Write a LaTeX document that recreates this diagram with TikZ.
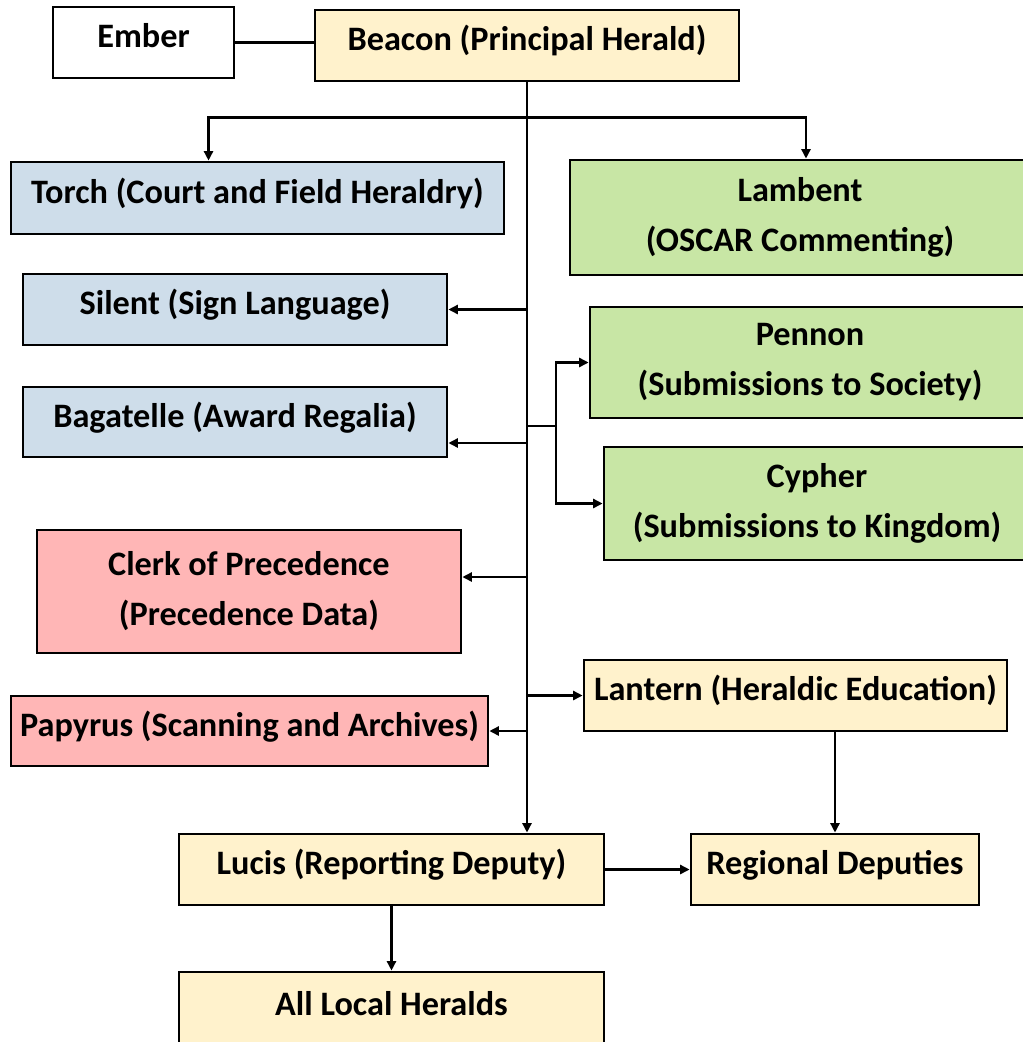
\documentclass[tikz,border=0pt]{standalone}
\usepackage{fontspec}
\setmainfont{Carlito}
\usetikzlibrary{arrows.meta,positioning}
\definecolor{heraldyellow}{RGB}{255,242,204}
\definecolor{heraldblue}{RGB}{206,221,234}
\definecolor{heraldgreen}{RGB}{200,230,165}
\definecolor{heraldpink}{RGB}{255,182,182}
\tikzset{
    %Define standard arrow tip
    >={Triangle[length=1.9mm,width=1.8mm]},
    %Define style for boxes
    office/.style={
           rectangle,
           draw=black, line width=1.6pt,
           inner sep=0pt,
           font=\bfseries\fontsize{19.5}{28.5}\selectfont,
           align=center},
    oneline/.style={
           text height=0.4cm,
           text depth=0.2cm},
    plainrect/.style={office, oneline, fill=white},
    yellowrect/.style={office, oneline, fill=heraldyellow},
    bluerect/.style={office, oneline, fill=heraldblue},
    greenrect/.style={office, fill=heraldgreen},
    pinkrect/.style={office, fill=heraldpink},
    % Define arrow style
    pil/.style={
           ->,
           line width=1.4pt}
}
\begin{document}
\begin{tikzpicture}[x=0.02cm,y=-0.02cm]
\useasboundingbox (0,0) rectangle (1023,1042);
\clip (0,0) rectangle (1023,1042);

 %nodes
\node[plainrect, minimum width=3.62cm, minimum height=1.42cm] (ember) at (143.5,42.5) {Ember};
\node[yellowrect, minimum width=8.48cm, minimum height=1.42cm] (beacon) at (527,45.5) {Beacon (Principal Herald)};
\node[bluerect, minimum width=9.86cm, minimum height=1.44cm] (torch) at (257.5,198) {Torch (Court and Field Heraldry)};
\node[greenrect, minimum width=9.2cm, minimum height=2.3cm] (lambent) at (800,217.5) {Lambent\\(OSCAR Commenting)};
\node[bluerect, minimum width=8.48cm, minimum height=1.42cm] (silent) at (235,309.5) {Silent (Sign Language)};
\node[greenrect, minimum width=8.8cm, minimum height=2.22cm] (pennon) at (810,362.5) {Pennon\\(Submissions to Society)};
\node[bluerect, minimum width=8.48cm, minimum height=1.4cm] (bagatelle) at (235,422) {Bagatelle (Award Regalia)};
\node[greenrect, minimum width=8.52cm, minimum height=2.26cm] (cypher) at (817,503.5) {Cypher\\(Submissions to Kingdom)};
\node[pinkrect, minimum width=8.48cm, minimum height=2.46cm] (clerk) at (249,591.5) {Clerk of Precedence\\(Precedence Data)};
\node[yellowrect, minimum width=8.46cm, minimum height=1.42cm] (lantern) at (795.5,695.5) {Lantern (Heraldic Education)};
\node[pinkrect, oneline, minimum width=9.54cm, minimum height=1.4cm] (papyrus) at (249.5,731) {Papyrus (Scanning and Archives)};
\node[yellowrect, minimum width=8.5cm, minimum height=1.42cm] (lucis) at (391.5,869.5) {Lucis (Reporting Deputy)};
\node[yellowrect, minimum width=5.76cm, minimum height=1.42cm] (regional) at (835,869.5) {Regional Deputies};
\node[yellowrect, minimum width=8.5cm, minimum height=1.52cm] (locals) at (391.5,1010) {All Local Heralds};

 %junctions
\path (beacon.south) ++(0,35) coordinate (split);
\coordinate (bagin) at ([yshift=-0.42cm]bagatelle.east);
\coordinate (clerkin) at ([yshift=0.29cm]clerk.east);
\coordinate (fork) at (556,426);

 %connectors
\draw[line width=1.4pt] (ember.east) -- (ember.east -| beacon.west);
\draw[pil] (beacon.south) -- (beacon.south |- lucis.north);
\draw[pil] (split) -| ([xshift=-0.98cm]torch.north);
\draw[pil] (split) -| ([xshift=0.12cm]lambent.north);
\draw[pil] (beacon.south |- silent.east) -- (silent.east);
\draw[pil] (bagin -| beacon.south) -- (bagin);
\draw[line width=1.4pt] (beacon.south |- fork) -- (fork);
\draw[pil] (fork) |- (pennon.west);
\draw[pil] (fork) |- (cypher.west);
\draw[pil] (clerkin -| beacon.south) -- (clerkin);
\draw[pil] (beacon.south |- lantern.west) -- (lantern.west);
\draw[pil] (beacon.south |- papyrus.east) -- (papyrus.east);
\draw[pil] (regional.north |- lantern.south) -- (regional.north);
\draw[pil] (lucis.east) -- (regional.west);
\draw[pil] (lucis.south) -- (locals.north);

\end{tikzpicture}
\end{document}
